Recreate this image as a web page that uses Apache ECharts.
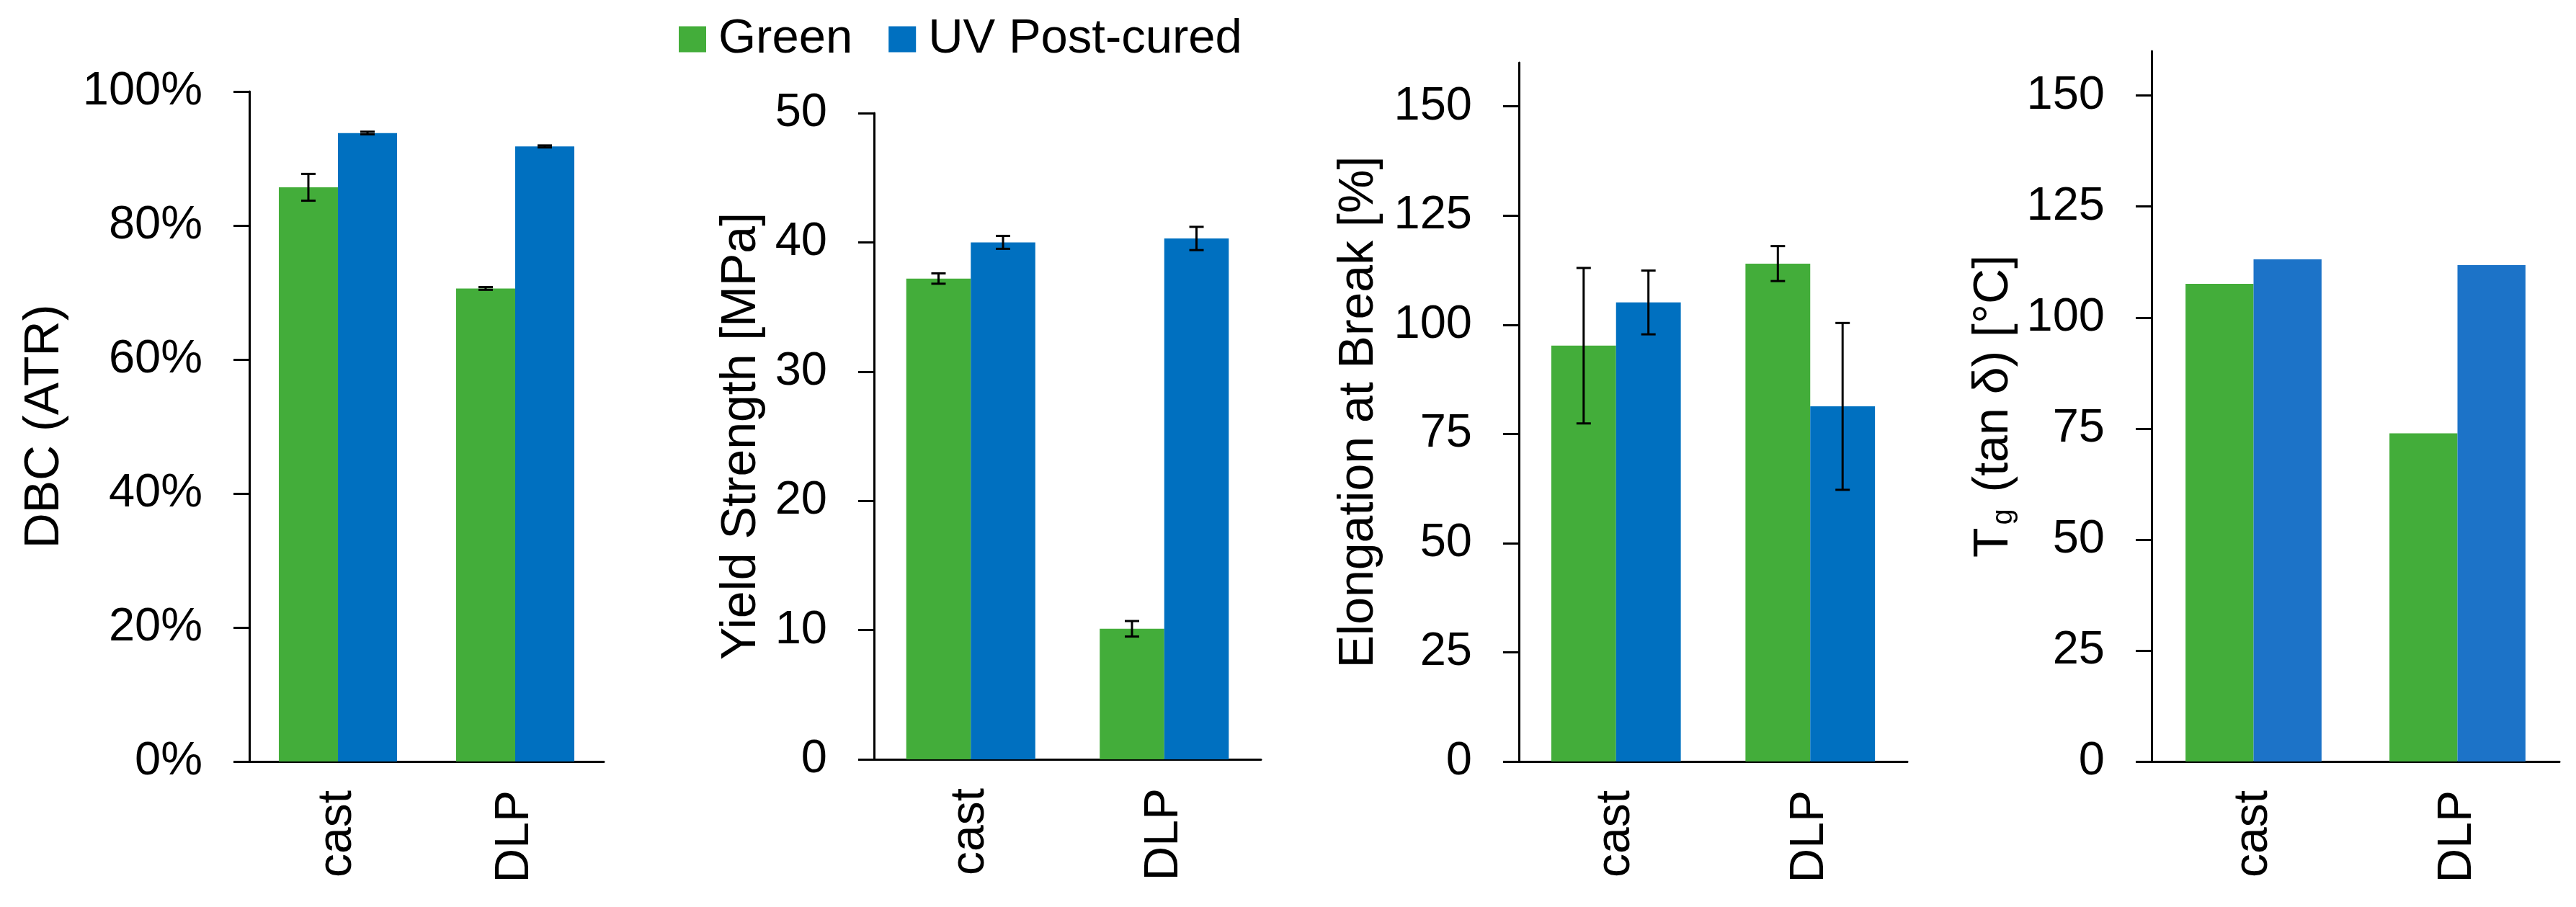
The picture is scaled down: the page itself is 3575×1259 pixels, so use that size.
<!DOCTYPE html>
<html>
<head>
<meta charset="utf-8">
<script src="https://cdn.jsdelivr.net/npm/echarts@6/dist/echarts.min.js"></script>
<style>
  html, body { margin: 0; padding: 0; background: #fff; }
  #main { width: 3575px; height: 1259px; }
</style>
</head>
<body>
<div id="main"></div>
<script>
var categories = ['cast', 'DLP'];

// DBC (ATR), %
var dbcGreen = [85.7, 70.6];
var dbcGreenErr = [2.0, 0.2];
var dbcUv = [93.8, 91.8];
var dbcUvErr = [0.2, 0.15];

// yield strength, MPa
var yieldGreen = [37.2, 10.1];
var yieldGreenErr = [0.4, 0.6];
var yieldUv = [40.0, 40.3];
var yieldUvErr = [0.5, 0.9];

// elongation at break, %
var elongGreen = [95.2, 114.0];
var elongGreenErr = [17.8, 4.0];
var elongUv = [105.1, 81.3];
var elongUvErr = [7.3, 19.1];

// Tg (tan delta), °C
var tgGreen = [107.6, 73.9];
var tgUv = [113.1, 111.8];

var ticks25 = [0, 25, 50, 75, 100, 125, 150];

var GREEN = '#43ad3a';
var BLUE = '#0070c0';
var BLUE2 = '#1c73c8';
var FONT = 'Liberation Sans, Arial, sans-serif';
var CAT_GAP = 0.333;

function errData(vals, errs) {
    var out = [];
    for (var i = 0; i < vals.length; i++) {
        out.push([i, vals[i], errs[i]]);
    }
    return out;
}

// draws an error bar on top of the green (side -1) or blue (side 1) bar
function errSeries(idx, side, vals, errs) {
    return {
        type: 'custom',
        xAxisIndex: idx,
        yAxisIndex: idx,
        z: 10,
        silent: true,
        data: errData(vals, errs),
        renderItem: function (params, api) {
            var i = api.value(0);
            var v = api.value(1);
            var e = api.value(2);
            var band = api.size([1, 0])[0];
            var barW = band * (1 - CAT_GAP) / 2;
            var x = api.coord([i, v])[0] + side * barW / 2;
            var yTop = api.coord([i, v + e])[1];
            var yBot = api.coord([i, v - e])[1];
            var cap = 10;
            var st = { stroke: '#000', lineWidth: 3 };
            return {
                type: 'group',
                children: [
                    { type: 'line', shape: { x1: x, y1: yTop, x2: x, y2: yBot }, style: st },
                    { type: 'line', shape: { x1: x - cap, y1: yTop, x2: x + cap, y2: yTop }, style: st },
                    { type: 'line', shape: { x1: x - cap, y1: yBot, x2: x + cap, y2: yBot }, style: st }
                ]
            };
        }
    };
}

function barSeries(name, idx, vals, color) {
    return {
        name: name,
        type: 'bar',
        xAxisIndex: idx,
        yAxisIndex: idx,
        data: vals,
        barGap: '0%',
        barCategoryGap: '33.3%',
        itemStyle: { color: color },
        emphasis: { disabled: true }
    };
}

function xAxisFor(idx) {
    return {
        type: 'category',
        gridIndex: idx,
        data: categories,
        axisLine: { lineStyle: { color: '#000', width: 3 } },
        axisTick: { show: false },
        axisLabel: {
            rotate: 90,
            margin: 40,
            fontSize: 66,
            color: '#000',
            fontFamily: FONT
        }
    };
}

function yAxisFor(idx, opts) {
    var ax = {
        type: 'value',
        gridIndex: idx,
        min: 0,
        max: opts.max,
        interval: opts.interval,
        name: opts.name,
        nameLocation: 'middle',
        nameRotate: 90,
        nameGap: opts.nameGap,
        nameTextStyle: { fontSize: 68, color: '#000', fontFamily: FONT, rich: opts.rich },
        splitLine: { show: false },
        axisLine: { show: true, lineStyle: { color: '#000', width: 3 } },
        axisTick: { show: true, length: 22, lineStyle: { color: '#000', width: 3 } },
        axisLabel: {
            margin: 65,
            fontSize: 65,
            color: '#000',
            fontFamily: FONT,
            formatter: opts.formatter
        }
    };
    if (opts.ticks) {
        ax.axisTick.customValues = opts.ticks;
        ax.axisLabel.customValues = opts.ticks;
    }
    return ax;
}

var chart = echarts.init(document.getElementById('main'));

chart.setOption({
    backgroundColor: '#fff',
    animation: false,
    legend: {
        data: ['Green', 'UV Post-cured'],
        left: 937,
        top: 16,
        icon: 'rect',
        itemWidth: 38,
        itemHeight: 36,
        itemGap: 50,
        textStyle: { fontSize: 67, color: '#000', fontFamily: FONT, padding: [0, 0, 0, 12] }
    },
    grid: [
        { left: 346, top: 127, width: 492, height: 930 },
        { left: 1213, top: 157, width: 537, height: 897 },
        { left: 2108, top: 87, width: 539, height: 970 },
        { left: 2986, top: 71, width: 566, height: 986 }
    ],
    xAxis: [xAxisFor(0), xAxisFor(1), xAxisFor(2), xAxisFor(3)],
    yAxis: [
        yAxisFor(0, { max: 100, interval: 20, name: 'DBC (ATR)', nameGap: 250, formatter: '{value}%' }),
        yAxisFor(1, { max: 50, interval: 10, name: 'Yield Strength [MPa]', nameGap: 150 }),
        yAxisFor(2, { max: 160, interval: 25, name: 'Elongation at Break [%]', nameGap: 188, ticks: ticks25 }),
        yAxisFor(3, {
            max: 160, interval: 25, nameGap: 185, ticks: ticks25,
            name: 'T{sub|g} (tan δ) [°C]',
            rich: { sub: { fontSize: 40, fontFamily: FONT, color: '#000', verticalAlign: 'bottom', padding: [0, 4, 0, 4] } }
        })
    ],
    series: [
        barSeries('Green', 0, dbcGreen, GREEN),
        barSeries('UV Post-cured', 0, dbcUv, BLUE),
        errSeries(0, -1, dbcGreen, dbcGreenErr),
        errSeries(0, 1, dbcUv, dbcUvErr),

        barSeries('Green', 1, yieldGreen, GREEN),
        barSeries('UV Post-cured', 1, yieldUv, BLUE),
        errSeries(1, -1, yieldGreen, yieldGreenErr),
        errSeries(1, 1, yieldUv, yieldUvErr),

        barSeries('Green', 2, elongGreen, GREEN),
        barSeries('UV Post-cured', 2, elongUv, BLUE),
        errSeries(2, -1, elongGreen, elongGreenErr),
        errSeries(2, 1, elongUv, elongUvErr),

        barSeries('Green', 3, tgGreen, GREEN),
        barSeries('UV Post-cured', 3, tgUv, BLUE2)
    ]
});
</script>
</body>
</html>
